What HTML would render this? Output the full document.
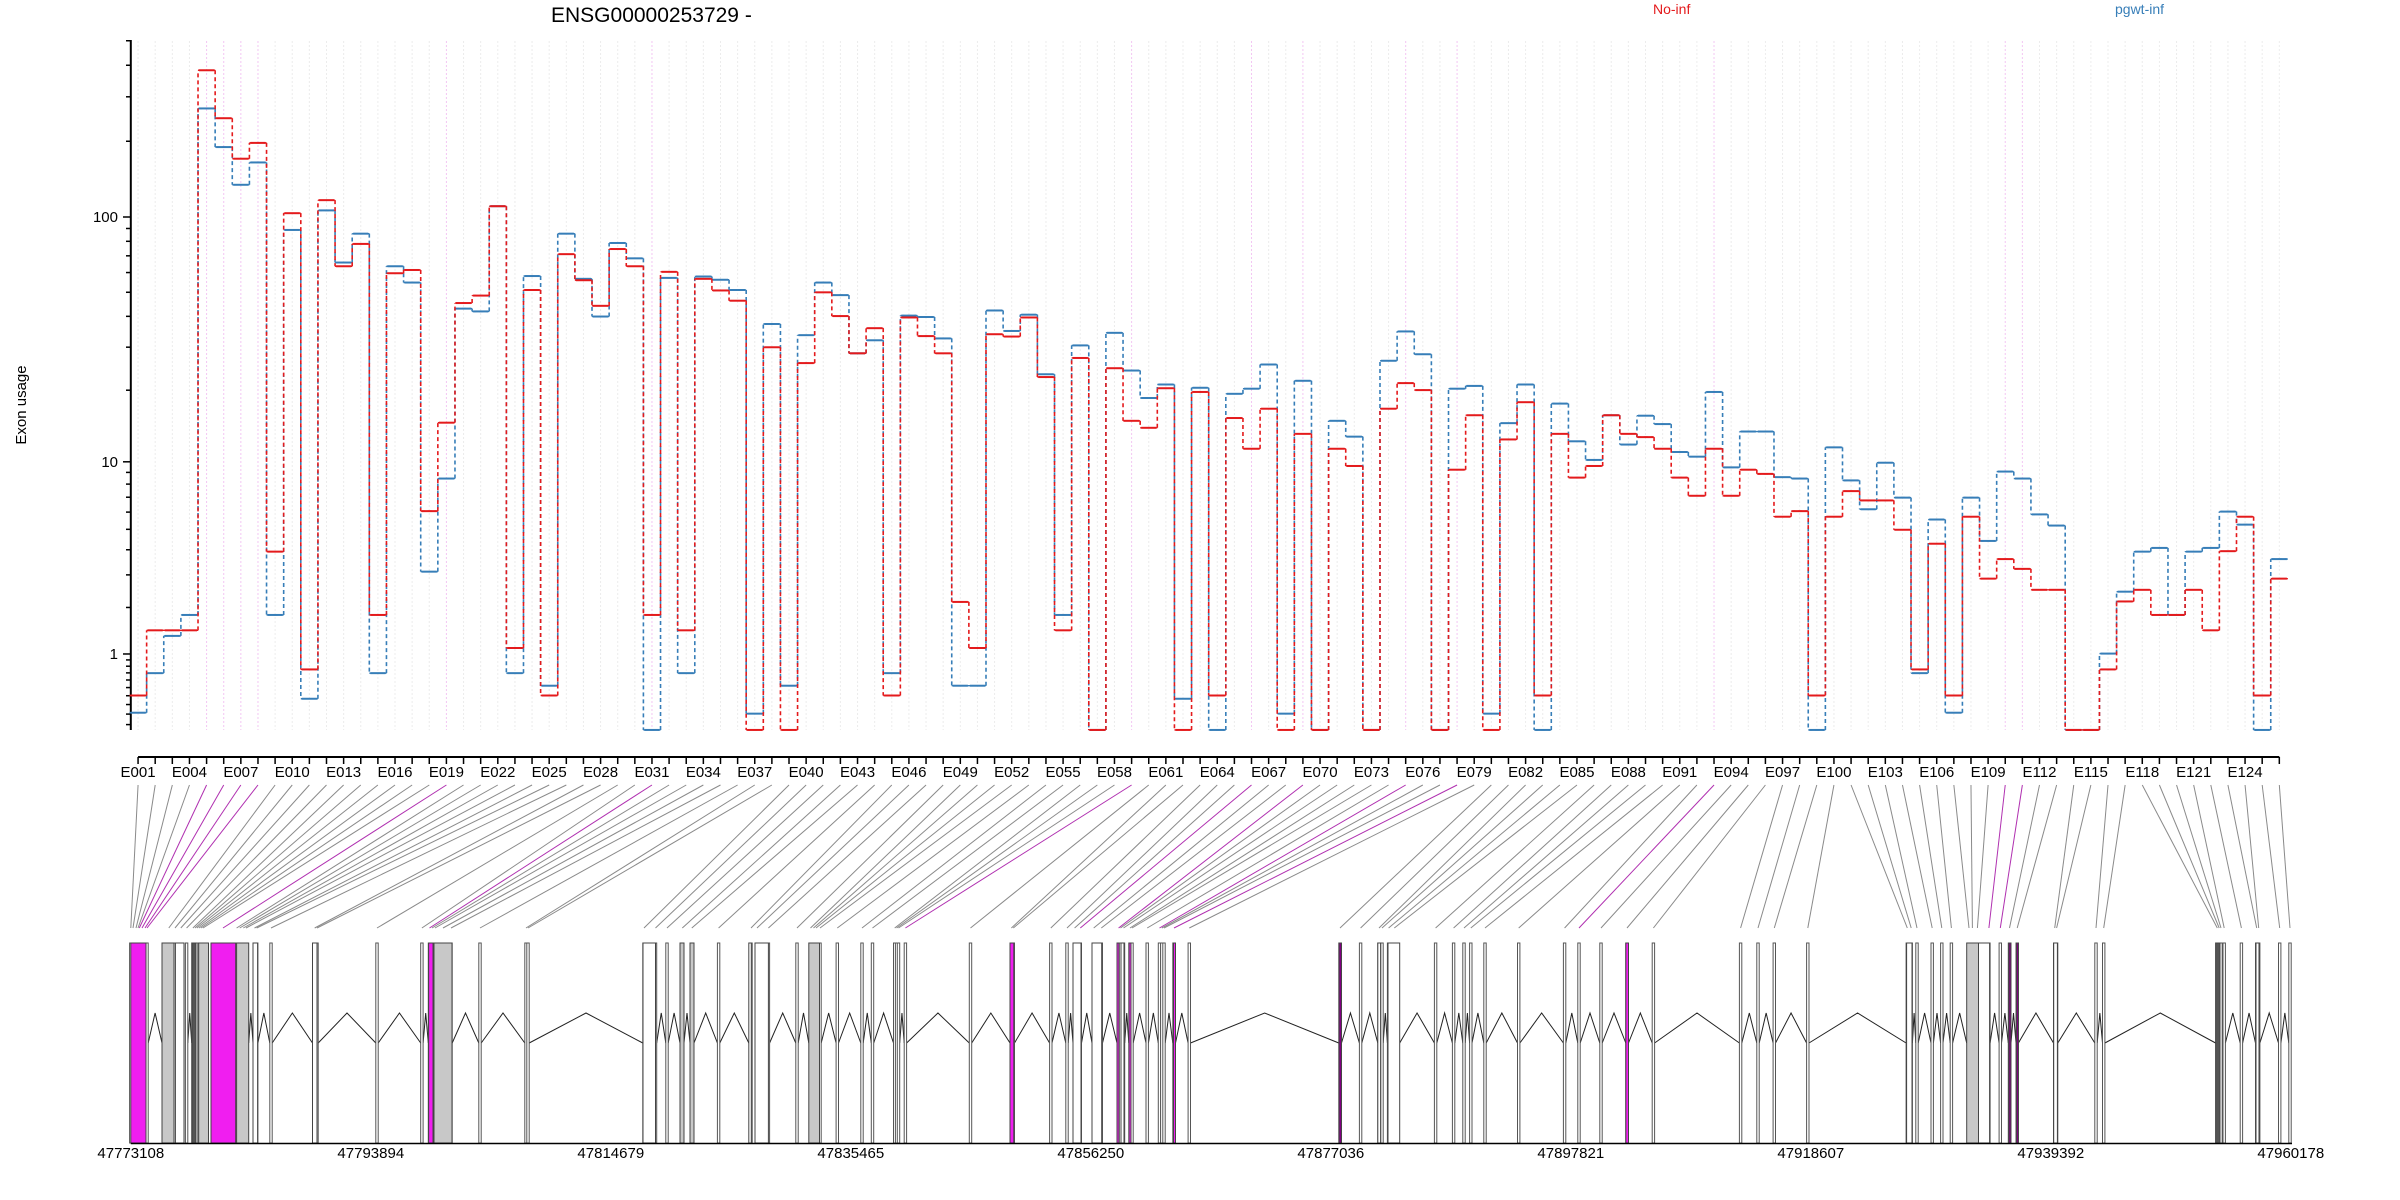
<!DOCTYPE html>
<html><head><meta charset="utf-8">
<style>
html,body{margin:0;padding:0;background:#fff;}
svg{display:block;}
text{font-family:"Liberation Sans",sans-serif;}
</style></head>
<body>
<svg id="s" width="2400" height="1200" viewBox="0 0 2400 1200" xmlns="http://www.w3.org/2000/svg">
<rect width="2400" height="1200" fill="#fff"/>
<text x="551" y="22" font-size="21" fill="#000">ENSG00000253729 -</text>
<text x="1653" y="14" font-size="14" fill="#e41a1c">No-inf</text>
<text x="2115" y="14" font-size="14" fill="#377eb8">pgwt-inf</text>
<text transform="translate(26,405) rotate(-90)" font-size="15" text-anchor="middle" fill="#000">Exon usage</text>
<g id="g"></g>
</svg>
<script>
(function(){
var NS="http://www.w3.org/2000/svg", G=document.getElementById("g");
function el(t,a,txt){var e=document.createElementNS(NS,t);for(var k in a)e.setAttribute(k,a[k]);if(txt!==undefined)e.textContent=txt;G.appendChild(e);return e;}
var X0=129.5,W=17.13,N=126;
function xc(i){return X0+(i-0.5)*W;}
function yv(v){return 217+253.3*(2.0039-Math.log10(v+0.9));}
var mag={5:1,6:1,7:1,8:1,19:1,31:1,59:1,66:1,69:1,75:1,78:1,93:1,110:1,111:1};
// grid
for(var i=1;i<=N;i++){el("line",{x1:xc(i),x2:xc(i),y1:41,y2:730,stroke:mag[i]?"#f3c6f3":"#ececec","stroke-width":1,"stroke-dasharray":"2,2"});}
// y axis
el("line",{x1:130.8,x2:130.8,y1:40,y2:730,stroke:"#000","stroke-width":2});
var ticks=[0.1,0.2,0.3,0.4,0.5,0.6,0.7,0.8,0.9,1,2,3,4,5,6,7,8,9,10,20,30,40,50,60,70,80,90,100,200,300,400,500];
ticks.forEach(function(v){var y=yv(v);var maj=(v==1||v==10||v==100);el("line",{x1:maj?123:126,x2:130.8,y1:y,y2:y,stroke:"#000","stroke-width":1.5});
 if(maj)el("text",{x:118,y:y+5,"font-size":15,"text-anchor":"end"},String(v));});
// x axis
el("line",{x1:xc(1),x2:xc(N),y1:757,y2:757,stroke:"#000","stroke-width":2});
for(var i=1;i<=N;i++){el("line",{x1:xc(i),x2:xc(i),y1:757,y2:764,stroke:"#000","stroke-width":1.5});
 if((i-1)%3==0)el("text",{x:xc(i),y:777,"font-size":15,"text-anchor":"middle"},"E"+("00"+i).slice(-3));}
// data (zoom units)
var R=[1408,1268,1268,1268,65,168,255,221,1099,372,1352,344,486,438,1235,501,494,1012,822,565,549,357,1306,537,1408,460,516,571,449,486,1235,498,1268,
513,538,560,1482,660,1482,694,542,593,673,619,1408,596,636,673,1207,1306,632,637,596,724,1268,683,1482,705,818,833,748,1482,756,1408,
812,878,792,1482,846,1482,878,915,1482,792,737,752,1482,923,806,1482,858,778,1408,846,940,915,806,846,853,878,940,979,878,979,923,932,
1024,1012,1408,1024,969,989,989,1052,1352,1082,1408,1024,1157,1115,1136,1181,1181,1482,1482,1352,1206,1181,1235,1235,1181,1268,1098,1024,1408,1157];
var B=[1445,1360,1280,1235,147,230,311,263,1235,408,1415,366,478,416,1360,486,521,1142,942,577,583,357,1360,507,1387,416,513,594,436,469,1482,511,1360,
508,515,537,1447,610,1387,634,521,548,673,645,1360,592,595,641,1387,1387,581,625,590,718,1235,656,1482,629,710,769,740,1415,747,1482,
760,749,697,1447,732,1482,818,852,1482,689,626,675,1482,749,743,1447,823,740,1482,781,862,902,806,869,807,825,885,895,756,918,841,841,
939,942,1482,875,946,1008,908,983,1360,1030,1445,983,1076,927,942,1019,1043,1482,1482,1318,1185,1099,1091,1235,1099,1091,1013,1041,1482,1115];
function yz(z){return 40+z/2.148;}
function series(D,col){
 var d="";
 for(var i=0;i<N;i++){var x0=X0+i*W,x1=x0+W,y=yz(D[i]);
  el("line",{x1:x0+1,x2:x1-1,y1:y,y2:y,stroke:col,"stroke-width":2});
  if(i<N-1){var y2=yz(D[i+1]);d+="M"+x1+" "+y+"V"+y2;}
 }
 d+="M"+X0+" "+yz(D[0]);
 el("path",{d:d,stroke:col,"stroke-width":1.6,fill:"none","stroke-dasharray":"4,3"});
 var h="";for(var i=0;i<N;i++){var x0=X0+i*W,y=yz(D[i]);h+="M"+x0+" "+y+"h"+W;}
 el("path",{d:h,stroke:col,"stroke-width":1.4,fill:"none","stroke-dasharray":"4,3"});
}
series(B,"#377eb8");series(R,"#e41a1c");
// gene model
var P=[130.8,133,136,139.3,142,145,168.8,175,180.8,186.6,192.9,195,196.9,199,201,223,236.6,239.7,243.3,254.5,256.7,271,314.7,317,377,421.9,429.5,432,435,443,451,480,526,528,
644,655.5,667,682.3,691.8,718.6,751,757,768.4,797,810.5,813.5,816,820,837.3,862,872.5,894.7,896.6,898.5,905.4,970.5,1011.4,1013.3,1050.8,1067,1074.6,1080.3,1093.7,1101.3,1118.6,1120.5,1123.5,1130,1132,1147.2,1159.5,1161.8,1174,1189.3,
1340,1360.6,1379,1382,1388.6,1394.3,1435.6,1453.6,1464,1470.8,1485,1518.7,1564.6,1579,1601,1627,1653.4,1740.6,1758,1774.3,
1807.8,1907.3,1911.2,1917,1932.2,1941.8,1951.4,1972.4,1977.4,1988.9,2000.3,2009.5,2017.2,2054.7,2056.6,2096,2103.7,2217.3,2219.2,2224.2,2241.4,2256.7,2258.7,2279.7,2290,
138,147,203,246,1164,1969,2221];
P.sort(function(a,b){return a-b;});
// connectors
for(var i=1;i<=N;i++){el("line",{x1:xc(i),y1:785,x2:P[i-1],y2:928,stroke:mag[i]?"#b030b0":"#8a8a8a","stroke-width":1});}
var BX=[[130.8,146,'m'],[162,174,'g'],[175.4,184,'w'],[192,196,'k'],[198.7,208.5,'g'],[211,235.7,'m'],[236.6,248.7,'g'],[253,257.6,'w'],[312.5,317,'w'],[428.6,433,'m'],[434,452,'g'],[643,655.5,'w'],[680,684,'g'],[690,694,'g'],[748.8,751.3,'w'],[755,768.4,'w'],[808.8,819.5,'g'],[1010,1013.8,'m'],[1073,1081,'w'],[1092,1101.7,'w'],[1117,1119,'m'],[1121,1124,'w'],[1129,1131,'m'],[1173.5,1175.5,'m'],[1339,1341.5,'p'],[1377.8,1380.6,'w'],[1388,1399.7,'w'],[1625.8,1628.5,'m'],[1906.6,1912,'w'],[1966.7,1978.5,'g'],[1978.5,1989.6,'w'],[2008.9,2011,'p'],[2016.4,2018.4,'p'],[2053.7,2057.4,'w'],[2215.6,2220,'k'],[2256,2259,'w']];
var CF={m:"#f01ef0",g:"#c8c8c8",w:"#fff",k:"#555",p:"#800080"};
var iv=[];P.forEach(function(p){iv.push([p-1.2,p+1.2]);});BX.forEach(function(b){iv.push([b[0],b[1]]);});
iv.sort(function(a,b){return a[0]-b[0];});
var mg=[];iv.forEach(function(a){if(mg.length&&a[0]<=mg[mg.length-1][1]+0.5){mg[mg.length-1][1]=Math.max(mg[mg.length-1][1],a[1]);}else mg.push([a[0],a[1]]);});
var zz="";for(var k=0;k<mg.length-1;k++){var a=mg[k][1],b=mg[k+1][0];if(b-a<3)continue;zz+="M"+a+" 1043L"+((a+b)/2)+" 1013L"+b+" 1043";}
el("path",{d:zz,stroke:"#222","stroke-width":1,fill:"none"});
P.forEach(function(p){el("rect",{x:p-1.2,y:943,width:2.4,height:200,fill:"#fff",stroke:"#555","stroke-width":1});});
BX.forEach(function(b){el("rect",{x:b[0],y:943,width:b[1]-b[0],height:200,fill:CF[b[2]],stroke:"#444","stroke-width":1});});
el("line",{x1:130.8,x2:2292,y1:1143.5,y2:1143.5,stroke:"#000","stroke-width":1.5});
var L=["47773108","47793894","47814679","47835465","47856250","47877036","47897821","47918607","47939392","47960178"];
L.forEach(function(t,k){el("text",{x:130.8+240*k,y:1158,"font-size":15,"text-anchor":"middle"},t);});
})();
</script>
</body></html>
